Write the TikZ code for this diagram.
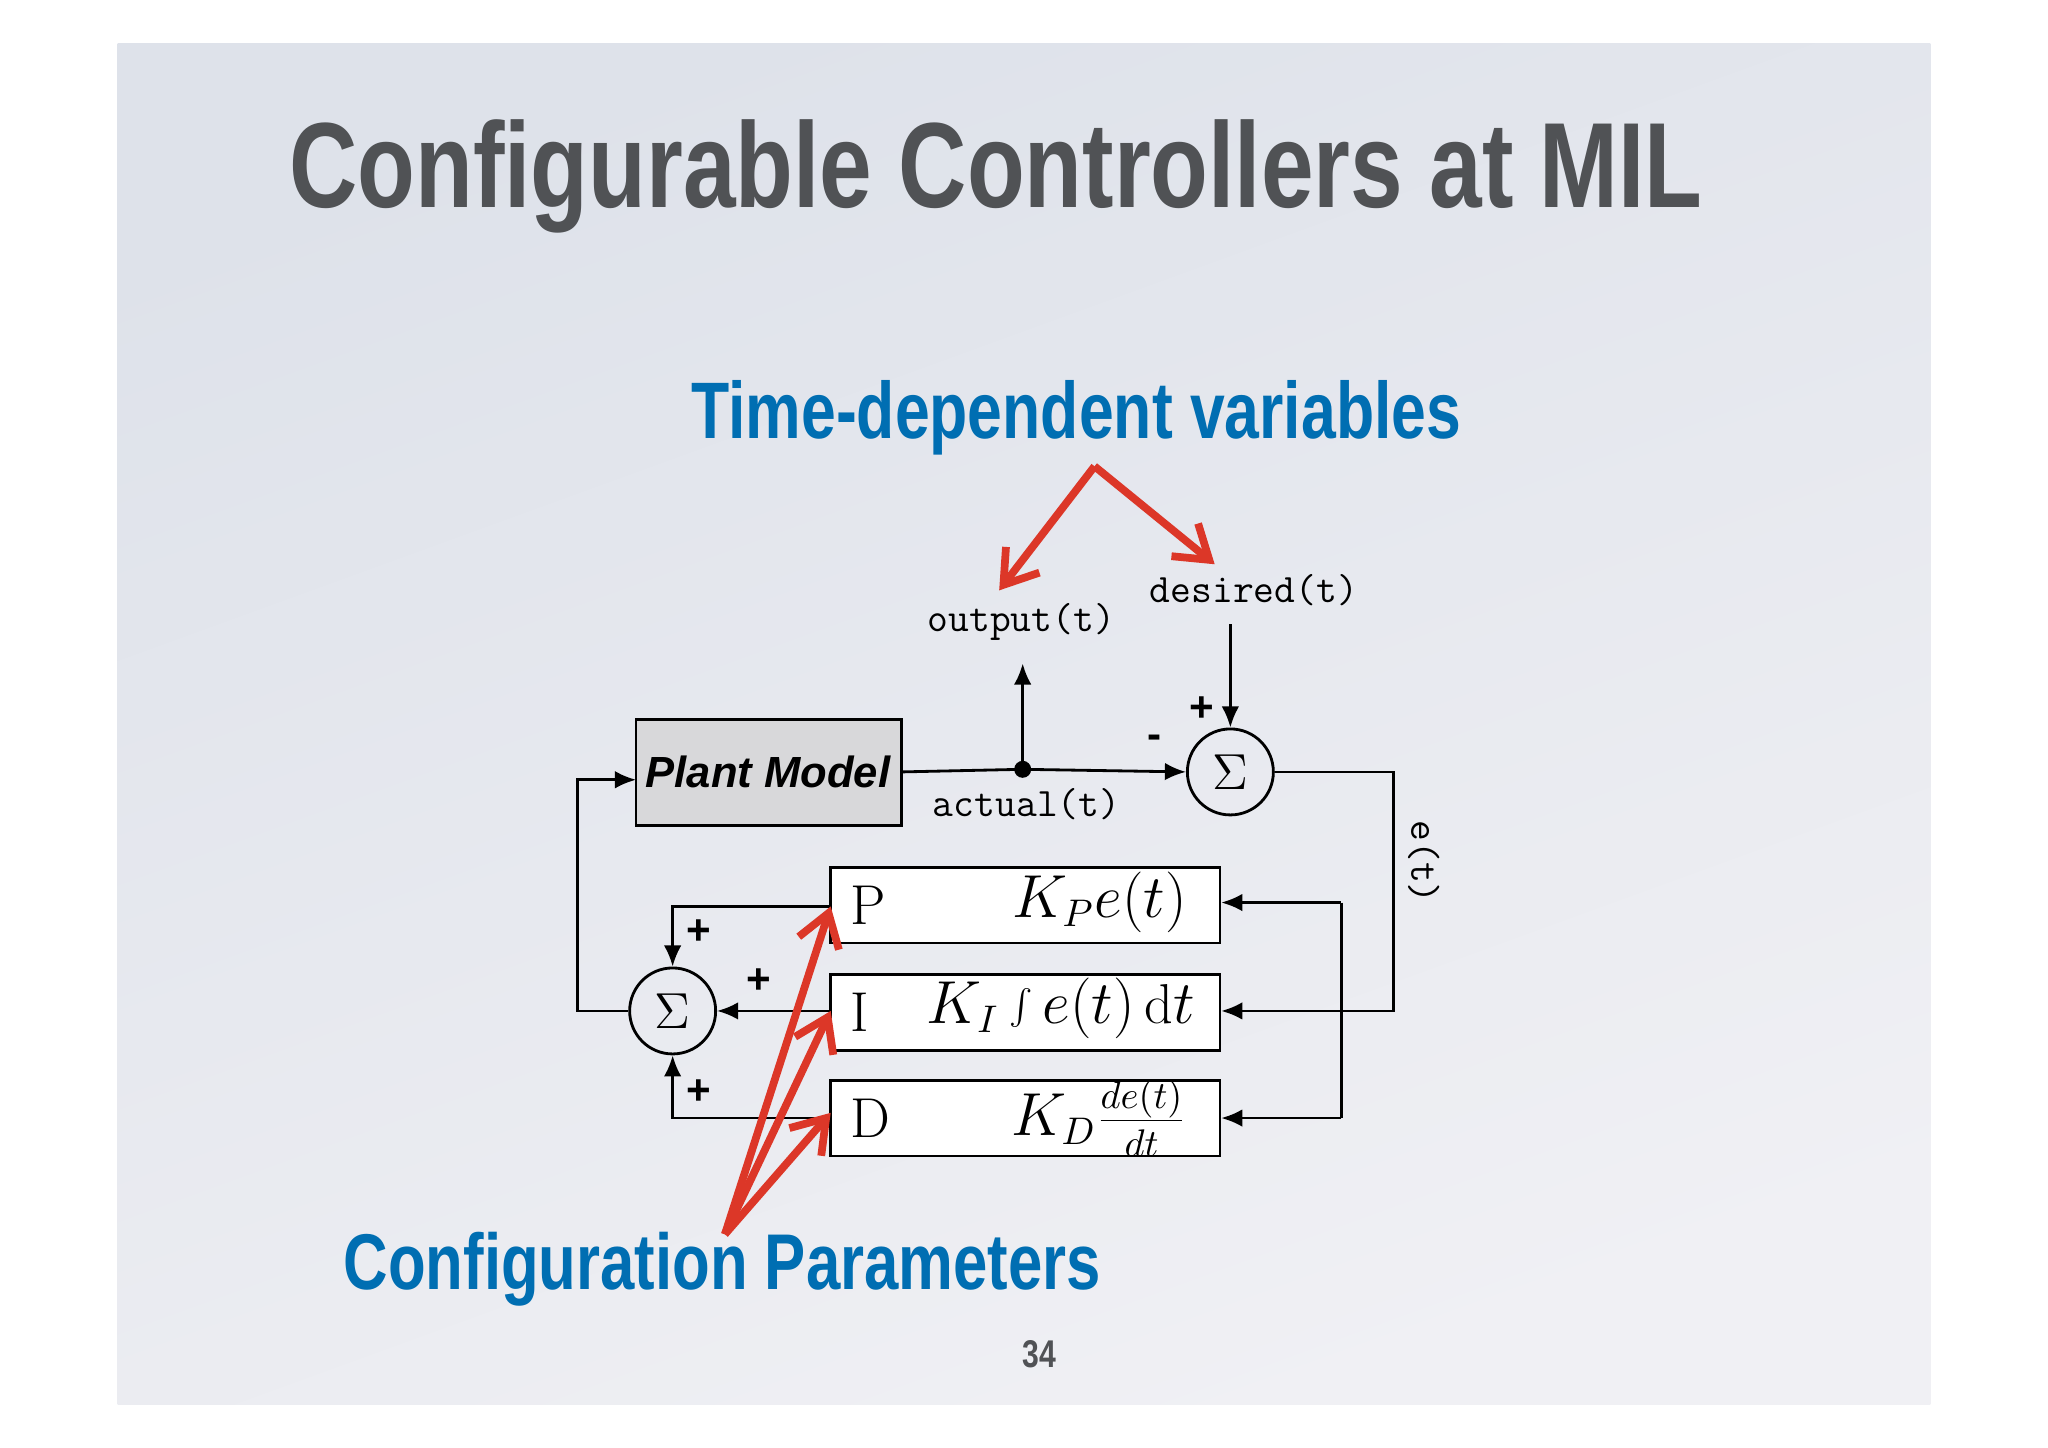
\documentclass[tikz,border=0pt]{standalone}
\usepackage{fontspec}
\setsansfont{Liberation Sans}
\newfontfamily\cond[FakeStretch=0.78]{Liberation Sans}
\usetikzlibrary{arrows.meta}
\definecolor{tblue}{RGB}{0,110,178}
\definecolor{tred}{RGB}{220,55,40}
\definecolor{tgray}{RGB}{80,82,85}
\begin{document}
\begin{tikzpicture}[x=0.01306cm,y=-0.01306cm,
  sumn/.style={draw,circle,line width=0.8pt,minimum size=0.86cm,inner sep=0,font=\fontsize{15}{15}\selectfont},
  ln/.style={line width=0.8pt},
  ar/.style={ln,-{Latex[length=6pt,width=5pt]}},
  red/.style={draw=tred,line width=2.2pt,-{Straight Barb[length=9pt,width=12pt]}},
  tt/.style={font=\ttfamily\fontsize{11.5}{12}\selectfont},
  pm/.style={font=\sffamily\bfseries\fontsize{12}{12}\selectfont},
  bt/.style={font=\fontsize{16}{16}\selectfont}]
\useasboundingbox (0,0) rectangle (1568,1107.9);
\fill[white] (0,0) rectangle (1568,1107.9);
\shade[top color={rgb,255:red,222;green,226;blue,234},bottom color={rgb,255:red,240;green,240;blue,244},shading angle=20] (90,33) rectangle (1478,1075);
\node[anchor=west,text=tgray,font=\cond\bfseries\fontsize{34.5}{38}\selectfont] (title) at (212,135) {Configurable Controllers at MIL};
\node[text=tblue,font=\cond\bfseries\fontsize{22.8}{26}\selectfont] (tdv) at (824,320) {Time-dependent variables};
\node[text=tblue,font=\cond\bfseries\fontsize{22.5}{26}\selectfont] (cp) at (553,972) {Configuration Parameters};
\node[text=tgray,font=\cond\bfseries\fontsize{11}{12}\selectfont] (pg) at (796,1037) {34};
% blocks
\draw[line width=0.8pt,fill={rgb,255:red,216;green,216;blue,218}] (487,551) rectangle (690,632);
\node[font=\sffamily\bfseries\itshape\fontsize{12.4}{14}\selectfont] (plantt) at (588,591) {Plant Model};
\coordinate (plantR) at (690,591); \coordinate (plantL) at (487,597);
\foreach \y in {664,746,827}{
  \draw[line width=0.8pt,fill=white] (636,\y) rectangle (934,\y+58);
}
\node[anchor=west,bt] (pl) at (642,693) {P};
\node[anchor=east,bt] (pr) at (918,691) {$K_P e(t)$};
\node[anchor=west,bt] (il) at (642,775) {I};
\node[anchor=west,bt] (ir) at (700,772) {$K_I \int e(t)\,\mathrm{d}t$};
\node[anchor=west,bt] (dl) at (642,856) {D};
\node[anchor=east,bt] (dr) at (918,856) {$K_D \frac{de(t)}{dt}$};
\coordinate (PL) at (636,694); \coordinate (IL) at (636,774); \coordinate (DL) at (636,856);
\coordinate (PR) at (935,691); \coordinate (IR) at (935,774); \coordinate (DR) at (935,856);
\node[sumn] (s1) at (942,591) {$\Sigma$};
\node[sumn] (s2) at (515,774) {$\Sigma$};
% top
\node[tt] (out) at (782,476) {output(t)};
\node[tt] (des) at (960,452) {desired(t)};
\node[tt] (act) at (786,616) {actual(t)};
\node[tt,rotate=-90] (et) at (1090,660) {e(t)};
\fill (783,589) circle (6.5) coordinate (dot);
\draw[ln] (plantR) -- (dot);
\draw[ar] (dot) -- (s1.west);
\draw[ar] (dot) -- (783,508);
\draw[ar] (942,478) -- (s1.north);
\node[pm] at (884,568) {-};
\node[pm] at (920,543) {+};
\draw[ar] (s1.east) -- (1067,591) -- (1067,774) -- (IR);
\draw[ar] (1027,691) -- (PR);
\draw[ar] (1027,856) -- (DR);
\draw[ln] (1027,691) -- (1027,856);
\draw[ar] (PL) -- (515,694) -- (s2.north);
\draw[ar] (IL) -- (s2.east);
\draw[ar] (DL) -- (515,856) -- (s2.south);
\node[pm] at (535,714) {+};
\node[pm] at (581,751) {+};
\node[pm] at (535,836) {+};
\draw[ar] (s2.west) -- (442,774) -- (442,597) -- (plantL);
% red
\coordinate (rt) at (838,357); \coordinate (rb) at (555,945);
\draw[red] (rt) -- (765,452);
\draw[red] (rt) -- (930,432);
\draw[red] (rb) -- (PL);
\draw[red] (rb) -- (IL);
\draw[red] (rb) -- (636,852);
\end{tikzpicture}
\end{document}
